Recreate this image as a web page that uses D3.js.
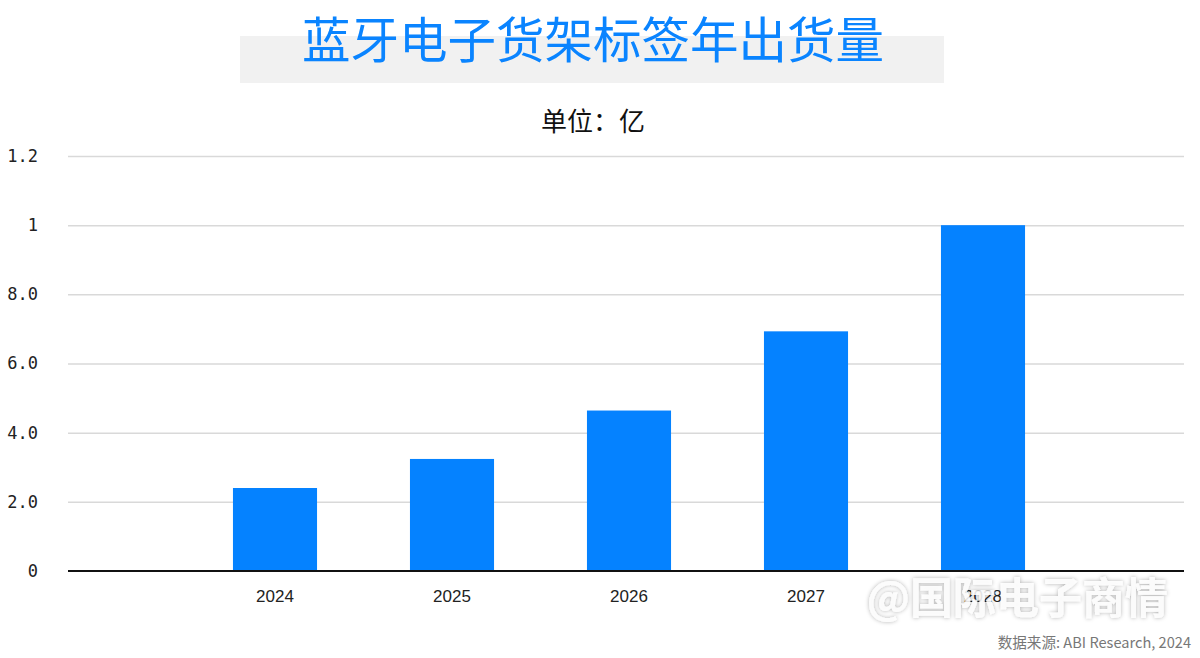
<!DOCTYPE html>
<html><head><meta charset="utf-8">
<script src="https://cdn.jsdelivr.net/npm/d3@7/dist/d3.min.js"></script>
<style>
html,body{margin:0;padding:0;background:#fff;}
svg{display:block;}
</style></head>
<body>
<svg id="chart" width="1200" height="658"></svg>
<script>
const categories = ["2024","2025","2026","2027","2028"];
const values = [2.4, 3.24, 4.64, 6.93, 10.0];
const yTicks = [0, 2, 4, 6, 8, 10, 12];
const yTickLabels = ["0","2.0","4.0","6.0","8.0","1","1.2"];
const title = "蓝牙电子货架标签年出货量";
const unit = "单位：亿";
const source = "数据来源: ABI Research, 2024";
const watermark = "@国际电子商情";

const svg = d3.select("#chart");
const cjk = "'Noto Sans CJK SC','Noto Sans',sans-serif";
const plotL = 68, plotR = 1184, plotT = 156, plotB = 571;

// title band
svg.append("rect").attr("x",240).attr("y",36).attr("width",704).attr("height",47).attr("fill","#f1f1f1");
svg.append("text").attr("x",593).attr("y",58).attr("text-anchor","middle")
  .attr("font-family",cjk).attr("font-size",48.5).attr("fill","#0A84FF").text(title);
svg.append("text").attr("x",593).attr("y",131).attr("text-anchor","middle")
  .attr("font-family",cjk).attr("font-size",26).attr("fill","#111").text(unit);

const y = d3.scaleLinear().domain([0,12]).range([plotB, plotT]);
const x = d3.scaleBand().domain(categories).range([186.5, 1071.5]).paddingInner(0.525).paddingOuter(0.2625);

// gridlines
const yAxis = d3.axisLeft(y).tickValues(yTicks.slice(1)).tickSize(-(plotR-plotL)).tickFormat("");
const gy = svg.append("g").attr("transform",`translate(${plotL},0)`).call(yAxis);
gy.select(".domain").remove();
gy.selectAll("line").attr("stroke","#d9d9d9").attr("stroke-width",1.5);

// y labels
svg.append("g").selectAll("text").data(yTicks).join("text")
  .attr("x",38).attr("y",d=>y(d)).attr("dy","0.35em").attr("text-anchor","end")
  .attr("font-family","'DejaVu Sans Mono','Liberation Mono',monospace").attr("font-size",17)
  .attr("fill","#222").text((d,i)=>yTickLabels[i]);

// bars
svg.append("g").selectAll("rect").data(values).join("rect")
  .attr("x",(d,i)=>x(categories[i])).attr("width",x.bandwidth())
  .attr("y",d=>y(d)).attr("height",d=>y(0)-y(d)).attr("fill","#0582FF");

// x axis
const xAxis = d3.axisBottom(x).tickSize(0).tickPadding(19);
const gx = svg.append("g").attr("transform",`translate(0,${plotB})`).call(xAxis);
gx.select(".domain").remove();
gx.selectAll("text").attr("font-family","'Liberation Sans',Arial,sans-serif").attr("font-size",17).attr("fill","#222");
svg.append("line").attr("x1",plotL).attr("x2",plotR).attr("y1",plotB).attr("y2",plotB)
  .attr("stroke","#111").attr("stroke-width",2);

// watermark
const defs = svg.append("defs");
const f = defs.append("filter").attr("id","sh").attr("x","-10%").attr("y","-30%").attr("width","120%").attr("height","160%");
f.append("feDropShadow").attr("dx",0).attr("dy",0).attr("stdDeviation",2).attr("flood-color","#000").attr("flood-opacity",0.35);
svg.append("text").attr("x",1168).attr("y",614).attr("text-anchor","end")
  .attr("font-family",cjk).attr("font-weight",700).attr("font-size",43)
  .attr("fill","#fff").attr("fill-opacity",0.85).attr("filter","url(#sh)").text(watermark);

svg.append("text").attr("x",1191).attr("y",648).attr("text-anchor","end")
  .attr("font-family",cjk).attr("font-size",14.6).attr("fill","#777").text(source);
</script>
</body></html>
